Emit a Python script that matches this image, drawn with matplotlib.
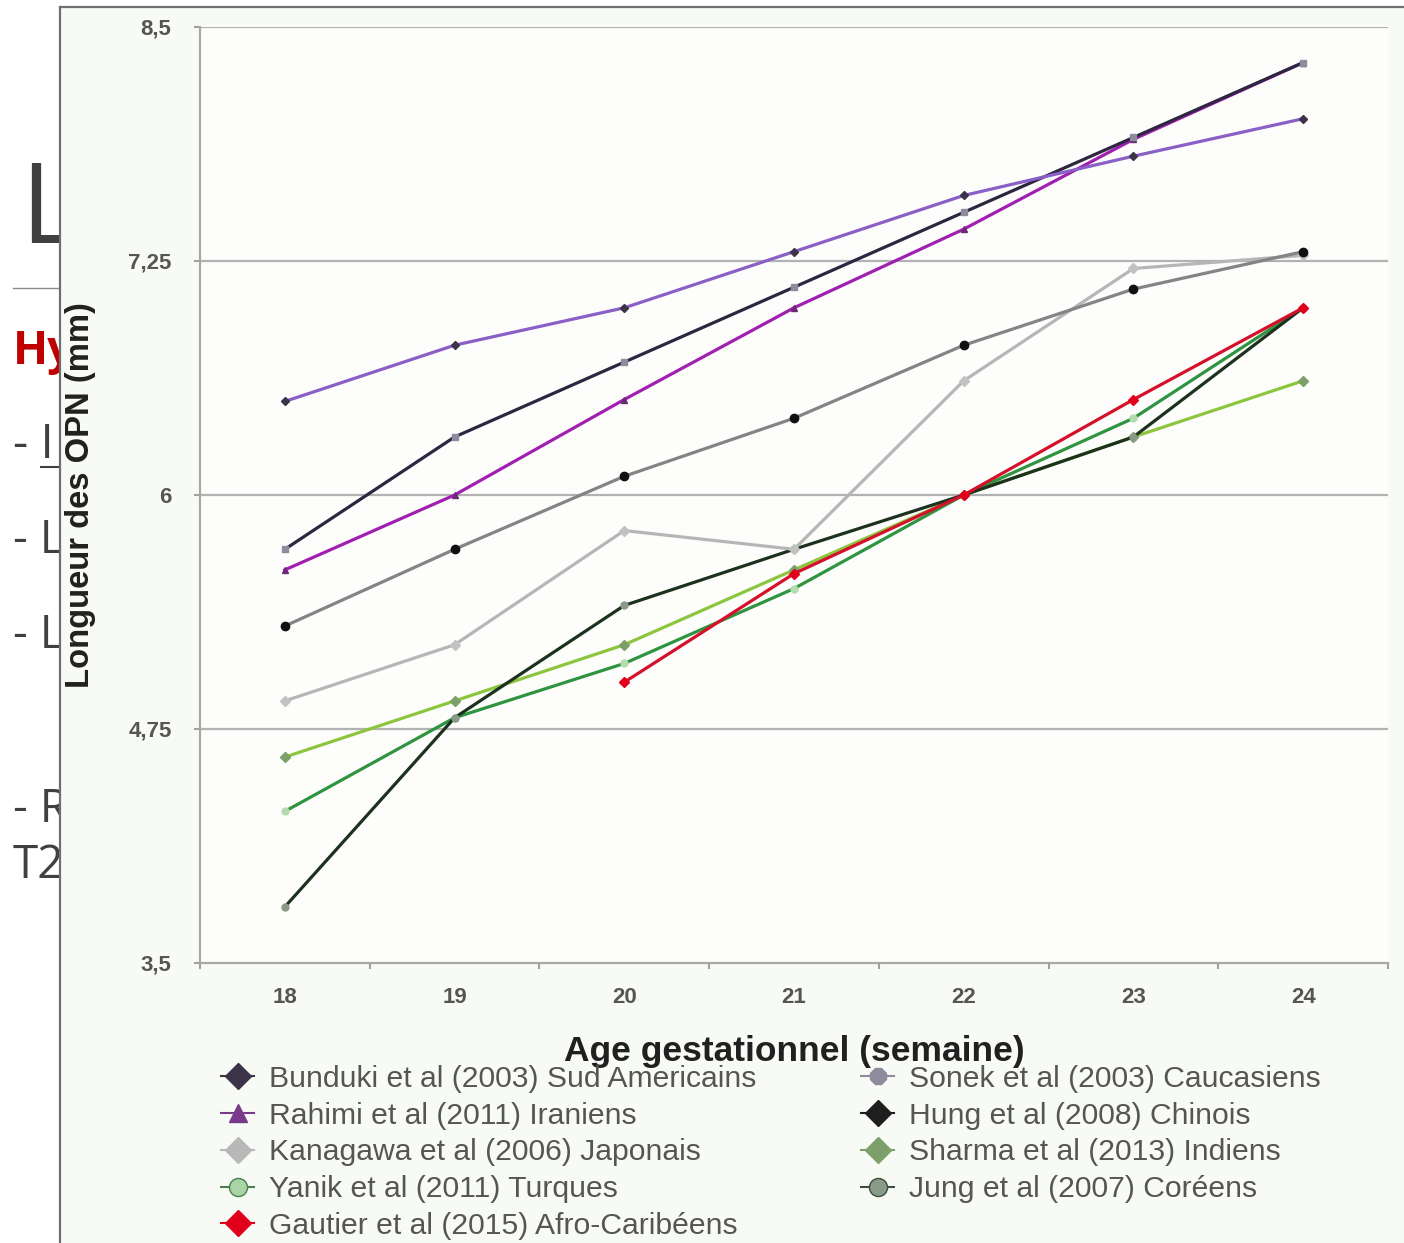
import matplotlib
matplotlib.use('Agg')
import matplotlib.pyplot as plt
from matplotlib.lines import Line2D
from matplotlib.ticker import FixedLocator
from matplotlib.transforms import Bbox, TransformedBbox

# ---------------- data ----------------
weeks = [18, 19, 20, 21, 22, 23, 24]
bunduki = [6.50, 6.80, 7.00, 7.30, 7.60, 7.81, 8.01]
sonek = [5.71, 6.31, 6.71, 7.11, 7.51, 7.91, 8.31]
rahimi = [5.60, 6.00, 6.51, 7.00, 7.42, 7.90, 8.31]
hung = [5.30, 5.71, 6.10, 6.41, 6.80, 7.10, 7.30]
kanagawa = [4.90, 5.20, 5.81, 5.71, 6.61, 7.21, 7.28]
jung = [3.80, 4.81, 5.41, 5.71, 6.00, 6.31, 7.00]
yanik = [4.31, 4.81, 5.10, 5.50, 6.00, 6.41, 7.00]
sharma = [4.60, 4.90, 5.20, 5.60, 6.00, 6.31, 6.61]
gautier_weeks = [20, 21, 22, 23, 24]
gautier = [5.00, 5.58, 6.00, 6.51, 7.00]

y_ticks = [3.5, 4.75, 6, 7.25, 8.5]
y_tick_labels = ['3,5', '4,75', '6', '7,25', '8,5']
x_ticks = weeks
x_tick_labels = ['18', '19', '20', '21', '22', '23', '24']

legend_col1 = ['Bunduki et al (2003) Sud Americains',
               'Rahimi et al (2011) Iraniens',
               'Kanagawa et al (2006) Japonais',
               'Yanik et al (2011) Turques',
               'Gautier et al (2015) Afro-Caribéens']
legend_col2 = ['Sonek et al (2003) Caucasiens',
               'Hung et al (2008) Chinois',
               'Sharma et al (2013) Indiens',
               'Jung et al (2007) Coréens']

W, H = 1404, 1243
fig = plt.figure(figsize=(W / 100, H / 100), dpi=100)
fig.patch.set_facecolor('white')

def fx(x):
    return x / W

def fy(y):
    return 1 - y / H

# ---------------- slide background text (cut by the chart image) ----------------
slide_font = ['Open Sans', 'DejaVu Sans']
clip_box = TransformedBbox(Bbox([[0, 0], [fx(60), 1]]), fig.transFigure)
slide_texts = []
slide_texts.append(fig.text(fx(20), fy(243), 'L', fontsize=80, color='#404040',
                            family=slide_font, va='baseline', ha='left', zorder=1))
fig.add_artist(Line2D([fx(13), fx(60)], [fy(288), fy(288)], color='#8a8a8a',
                      lw=1.0, transform=fig.transFigure, zorder=1))
slide_texts.append(fig.text(fx(13), fy(364), 'Hy', fontsize=33, color='#c00000',
                            weight='bold', family=slide_font, va='baseline',
                            ha='left', zorder=1))
slide_texts.append(fig.text(fx(13), fy(458), '- I', fontsize=34, color='#404040',
                            family=slide_font, va='baseline', ha='left', zorder=1))
fig.add_artist(Line2D([fx(41), fx(60)], [fy(467), fy(467)], color='#404040',
                      lw=1.5, transform=fig.transFigure, zorder=1))
for yb, s in [(553, '- L'), (648, '- L'), (822, '- R'), (878, 'T2')]:
    slide_texts.append(fig.text(fx(13), fy(yb), s, fontsize=33, color='#404040',
                                family=slide_font, va='baseline', ha='left', zorder=1))
for t in slide_texts:
    t.set_clip_box(clip_box)
    t.set_clip_on(True)

# ---------------- chart image background ----------------
bg = fig.add_axes([fx(60), 0, 1 - fx(60), fy(7)], zorder=2)
bg.set_facecolor('#f8fbf5')
bg.set_xticks([])
bg.set_yticks([])
for side in ['right', 'bottom']:
    bg.spines[side].set_visible(False)
for side in ['left', 'top']:
    bg.spines[side].set_color('#6f6f6f')
    bg.spines[side].set_linewidth(1.6)

# ---------------- main axes ----------------
ax_w = fx(1388) - fx(200)
ax = fig.add_axes([fx(200), fy(963), ax_w, fy(27) - fy(963)], zorder=3)
ax.set_facecolor('#fdfefc')
ax.set_xlim(17.5, 24.5)
ax.set_ylim(3.5, 8.5)

grid_c = '#b2b2b2'
for v in y_ticks[1:]:
    ax.axhline(v, color=grid_c, lw=1.6, zorder=1)

ax.spines['top'].set_visible(False)
ax.spines['right'].set_visible(False)
for side in ['left', 'bottom']:
    ax.spines[side].set_color('#a8a8a8')
    ax.spines[side].set_linewidth(1.6)

ax.set_yticks(y_ticks)
ax.set_yticklabels(y_tick_labels)
ax.set_xticks(x_ticks)
ax.set_xticklabels(x_tick_labels)
ax.xaxis.set_minor_locator(FixedLocator([17.5 + i for i in range(8)]))
ax.tick_params(axis='x', which='major', length=0, pad=17)
ax.tick_params(axis='x', which='minor', length=4, width=1.5, color='#a0a0a0')
ax.tick_params(axis='y', which='major', length=4, width=1.5, color='#a0a0a0', pad=16.5)
lab_font = ['Liberation Sans', 'DejaVu Sans']
for t in ax.get_xticklabels() + ax.get_yticklabels():
    t.set_family(lab_font)
    t.set_fontsize(16)
    t.set_weight('bold')
    t.set_color('#555555')

ax.set_xlabel('Age gestationnel (semaine)', family=lab_font, fontsize=25.5,
              weight='bold', color='#202020', labelpad=20)
ax.set_ylabel('Longueur des OPN (mm)', family=lab_font, fontsize=23.6,
              weight='bold', color='#202020')
ax.yaxis.set_label_coords((fx(96) - fx(200)) / ax_w, 0.5)

lw = 2.3
series = [
    # values, x, line colour, marker, marker colour, marker size, label
    (sharma, weeks, '#8cc63e', 'D', '#7da06a', 5, legend_col2[2]),
    (yanik, weeks, '#2f9440', 'o', '#b5dcb0', 5, legend_col1[3]),
    (jung, weeks, '#1d321e', 'o', '#8a9a88', 5, legend_col2[3]),
    (gautier, gautier_weeks, '#d4102b', 'D', '#e0001b', 5, legend_col1[4]),
    (kanagawa, weeks, '#b6b6b6', 'D', '#c2c2c2', 5, legend_col1[2]),
    (hung, weeks, '#848484', 'o', '#111111', 6, legend_col2[1]),
    (rahimi, weeks, '#a01fb0', '^', '#6b2a78', 4, legend_col1[1]),
    (sonek, weeks, '#2e2540', 's', '#8d8b9c', 5, legend_col2[0]),
    (bunduki, weeks, '#8a5fc6', 'D', '#3b3347', 4, legend_col1[0]),
]
for vals, xs, lc, mk, mc, ms, lab in series:
    ax.plot(xs, vals, color=lc, lw=lw, marker=mk, markersize=ms,
            markerfacecolor=mc, markeredgecolor=mc, zorder=3, label=lab)

# ---------------- legend ----------------
leg_specs = {
    legend_col1[0]: ('D', '#3b3347', '#3b3347'),
    legend_col1[1]: ('^', '#7a3a8c', '#7a3a8c'),
    legend_col1[2]: ('D', '#b8b8b8', '#b8b8b8'),
    legend_col1[3]: ('o', '#a9d4a6', '#4d7d4d'),
    legend_col1[4]: ('D', '#e0001b', '#e0001b'),
    legend_col2[0]: ('8', '#8d8b9c', '#8d8b9c'),
    legend_col2[1]: ('D', '#1e1e1e', '#1e1e1e'),
    legend_col2[2]: ('D', '#7da06a', '#7da06a'),
    legend_col2[3]: ('o', '#8a9a88', '#3e4e3e'),
}

def handles_for(labels):
    hs = []
    for lab in labels:
        mk, fc, ec = leg_specs[lab]
        hs.append(Line2D([0], [0], color=ec, lw=1.5, marker=mk, markersize=13,
                         markerfacecolor=fc, markeredgecolor=ec))
    return hs

leg_kw = dict(loc='upper left', frameon=False, prop={'family': lab_font, 'size': 21.7},
              labelcolor='#555555', handlelength=1.1, handletextpad=0.5,
              labelspacing=0.29, borderpad=0, borderaxespad=0)
leg1 = fig.legend(handles_for(legend_col1), legend_col1,
                  bbox_to_anchor=(fx(221), fy(1065)), **leg_kw)
leg2 = fig.legend(handles_for(legend_col2), legend_col2,
                  bbox_to_anchor=(fx(861), fy(1065)), **leg_kw)
leg1.set_zorder(5)
leg2.set_zorder(5)

fig.savefig('out.png', dpi=100, facecolor=fig.get_facecolor())
